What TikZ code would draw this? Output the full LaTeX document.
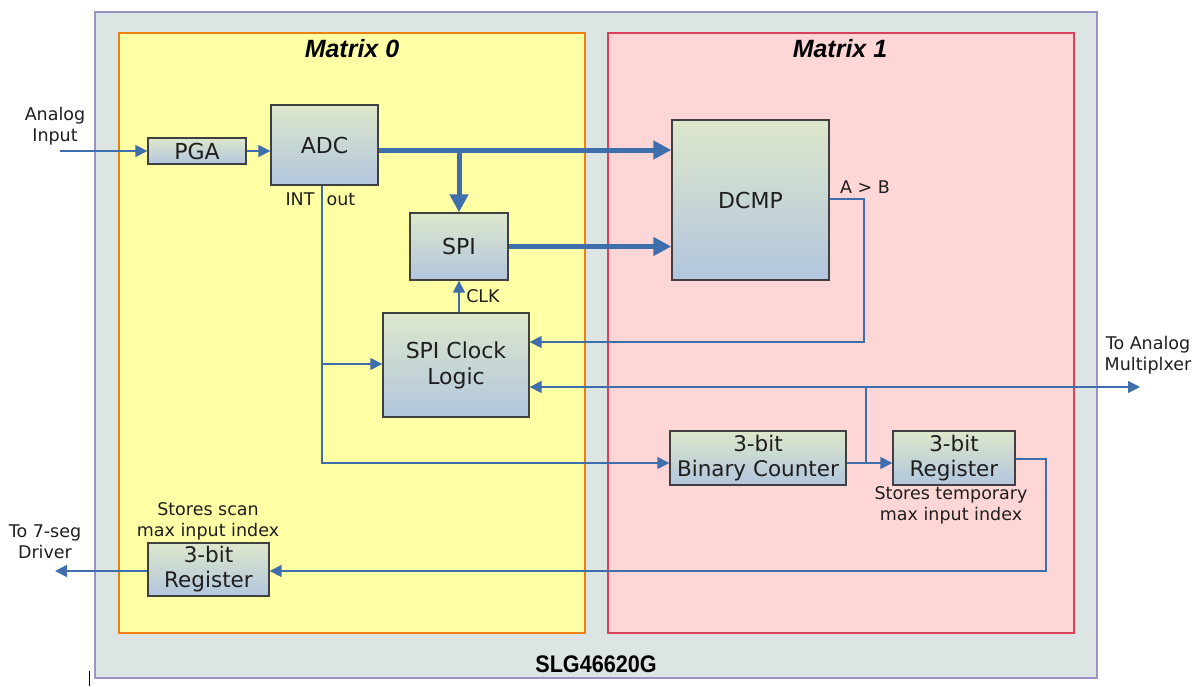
\documentclass[tikz,border=0pt]{standalone}
\usepackage{fontspec}
\setmainfont{DejaVu Sans}
\newfontfamily\titlefont{Liberation Sans}
\newfontfamily\chipfont[FakeStretch=0.9]{Liberation Sans}
\usetikzlibrary{arrows.meta}
\definecolor{outerfill}{HTML}{DDE5E4}
\definecolor{outerdraw}{HTML}{9B93C4}
\definecolor{mzfill}{HTML}{FFFFA5}
\definecolor{mzdraw}{HTML}{EE8010}
\definecolor{mofill}{HTML}{FFD6D6}
\definecolor{modraw}{HTML}{DC3F5C}
\definecolor{gtop}{HTML}{DDE7CB}
\definecolor{gbot}{HTML}{B2C6DE}
\definecolor{wire}{HTML}{3F6EAD}
\definecolor{txt}{HTML}{1E1E1E}
\begin{document}
\begin{tikzpicture}[x=1pt,y=-1pt,
  blockbox/.style={draw=black!75, line width=1.4pt, top color=gtop, bottom color=gbot,
    inner sep=0pt, text=txt, align=center, font=\fontsize{22}{26}\selectfont},
  wirethin/.style={draw=wire, line width=1.6pt},
  thinarrow/.style={wirethin, -{Triangle[length=12pt,width=12pt]}},
  thickarrow/.style={draw=wire, line width=5pt, -{Triangle[length=18pt,width=18pt]}},
  lbl/.style={text=txt, font=\fontsize{17.5}{21}\selectfont, align=center, inner sep=0pt},
  mtitle/.style={text=black, font=\titlefont\bfseries\itshape\fontsize{25}{28}\selectfont, inner sep=0pt},
]
\useasboundingbox (0,0) rectangle (1200,686);
% containers
\draw[fill=outerfill, draw=outerdraw, line width=1.5pt] (95,12) rectangle (1097,678);
\draw[fill=mzfill, draw=mzdraw, line width=2.5pt] (119,33) rectangle (585,633);
\draw[fill=mofill, draw=modraw, line width=2.5pt] (608,33) rectangle (1074,633);
\draw[black, line width=1pt] (89,671) -- (89,686);
\node[mtitle] (t0) at (352,49) {Matrix 0};
\node[mtitle] (t1) at (840,49) {Matrix 1};
\node[text=black, inner sep=0pt, font=\chipfont\bfseries\fontsize{24}{28}\selectfont] (chip) at (596,664) {SLG46620G};
% blocks
\node[blockbox, minimum width=98pt, minimum height=26pt] (pga) at (197,151) {PGA};
\node[blockbox, minimum width=107pt, minimum height=80pt] (adc) at (324.5,145) {ADC};
\node[blockbox, minimum width=98pt, minimum height=67pt] (spi) at (459,246.5) {SPI};
\node[blockbox, minimum width=146pt, minimum height=104pt] (clk) at (456,365) {SPI Clock\\Logic};
\node[blockbox, minimum width=157pt, minimum height=160pt] (dcmp) at (750.5,200) {DCMP};
\node[blockbox, minimum width=176pt, minimum height=54pt, font=\fontsize{21.5}{25}\selectfont] (cnt) at (758,458) {3-bit\\Binary Counter};
\node[blockbox, minimum width=122pt, minimum height=54pt, font=\fontsize{21.5}{25}\selectfont] (regr) at (954,458) {3-bit\\Register};
\node[blockbox, minimum width=121pt, minimum height=53pt, font=\fontsize{21.5}{25}\selectfont] (regl) at (208.5,569.5) {3-bit\\Register};
% labels
\node[lbl] (lain) at (55,126) {Analog\\Input};
\node[lbl] (lint) at (300,199) {INT};
\node[lbl] (lout) at (341,199) {out};
\node[lbl] (lclk) at (483,296) {CLK};
\node[lbl] (lab) at (865,187) {A \textgreater{} B};
\node[lbl] (lmux) at (1148,355) {To Analog\\Multiplxer};
\node[lbl] (ltmp) at (951,505) {Stores temporary\\max input index};
\node[lbl] (lscan) at (208,521) {Stores scan\\max input index};
\node[lbl] (lseg) at (45,542) {To 7-seg\\Driver};
% connectors
\coordinate (ain) at (60,151);
\draw[thinarrow] (ain) -- (pga.west |- ain);
\draw[thinarrow] (pga.east) -- (adc.west |- pga.east);
\coordinate (split) at (459,150);
\draw[thickarrow] (adc.east |- split) -- (dcmp.west |- split);
\draw[thickarrow] (split) -- (spi.north);
\draw[thickarrow] (spi.east) -- (dcmp.west |- spi.east);
\coordinate (intc) at (322,463);
\coordinate (intb) at (322,364);
\draw[thinarrow] (adc.south -| intc) -- (intc) -- (cnt.west |- intc);
\draw[thinarrow] (intb) -- (clk.west |- intb);
\draw[thinarrow] (spi.south |- clk.north) -- (spi.south);
\coordinate (abc) at (864,199);
\coordinate (abd) at (864,342);
\draw[thinarrow] (dcmp.east |- abc) -- (abc) -- (abd) -- (clk.east |- abd);
\coordinate (mj) at (866,387);
\coordinate (mux) at (1140,387);
\coordinate (cj) at (866,463);
\draw[thinarrow] (mj) -- (clk.east |- mj);
\draw[thinarrow] (mj) -- (mux);
\draw[wirethin] (cj) -- (mj);
\draw[thinarrow] (cnt.east |- cj) -- (regr.west |- cj);
\coordinate (r1) at (1046,459);
\coordinate (r2) at (1046,571);
\draw[thinarrow] (regr.east |- r1) -- (r1) -- (r2) -- (regl.east |- r2);
\coordinate (seg) at (55,571);
\draw[thinarrow] (regl.west |- seg) -- (seg);
\end{tikzpicture}
\end{document}
